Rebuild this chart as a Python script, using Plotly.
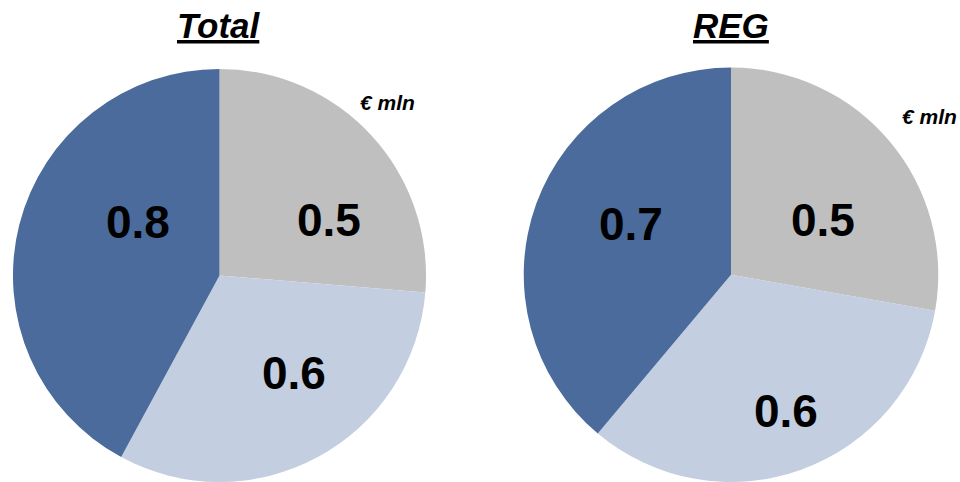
import plotly.graph_objects as go

# ---- data ----
categories = ["Segment A", "Segment B", "Segment C"]
total_values = [0.5, 0.6, 0.8]
reg_values = [0.5, 0.6, 0.7]
titles = ["Total", "REG"]
unit_label = "€ mln"

# ---- styles ----
colors = ["#BFBFBF", "#C3CEE1", "#4A6B9B"]
FONT = "Liberation Sans, Arial, sans-serif"
W, H = 960, 482

# label anchor positions in pixels (layout only)
label_pos = [
    [(329, 220), (294, 373), (138, 222)],
    [(823, 220), (786, 411), (631, 224)],
]
title_pos = [(219, 25), (731, 25)]
unit_pos = [(387, 102), (929, 116)]

fig = go.Figure()
domains = [dict(x=[12 / W, 427 / W], y=[0, 0.857]),
           dict(x=[521 / W, 941 / W], y=[0, 0.86])]

for vals, dom in zip([total_values, reg_values], domains):
    fig.add_trace(go.Pie(
        labels=categories, values=vals, sort=False, direction="clockwise",
        rotation=0, domain=dom, textinfo="none", hoverinfo="label+value",
        marker=dict(colors=colors, line=dict(width=0)), showlegend=False,
    ))

def a(px, py, text, size, **fontkw):
    return dict(x=px / W, y=1 - py / H, xref="paper", yref="paper",
                xanchor="center", yanchor="middle", text=text, showarrow=False,
                font=dict(family=FONT, size=size, color="black", **fontkw))

ann = []
for vals, positions in zip([total_values, reg_values], label_pos):
    for v, (px, py) in zip(vals, positions):
        ann.append(a(px, py, f"<b>{v:.1f}</b>", 46))
for t, (px, py) in zip(titles, title_pos):
    ann.append(a(px, py, f"<b><i>{t}</i></b>", 35, lineposition="under"))
for (px, py) in unit_pos:
    ann.append(a(px, py, f"<b><i>{unit_label}</i></b>", 21))

fig.update_layout(width=W, height=H, margin=dict(l=0, r=0, t=0, b=0),
                  paper_bgcolor="white", plot_bgcolor="white", annotations=ann)
fig.write_html("out.html", config={"displayModeBar": False},
               post_script="document.body.style.margin='0';")
